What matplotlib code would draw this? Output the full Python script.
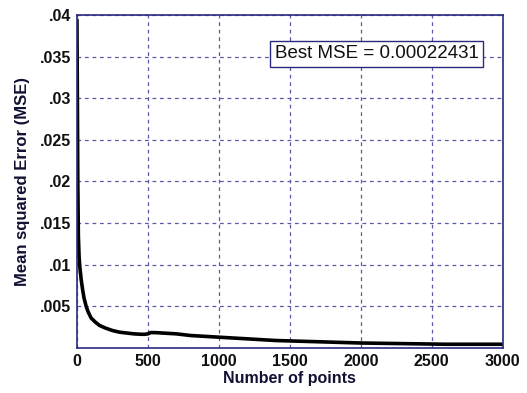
import matplotlib
matplotlib.use("Agg")
import matplotlib.pyplot as plt

plt.rcParams['font.family'] = ['Liberation Sans', 'DejaVu Sans']

points = [0, 3, 6, 10, 15, 20, 30, 40, 50, 65, 80, 100, 130, 160, 200, 250, 300, 350, 400, 450, 480, 500, 520, 550, 600, 700, 800, 900, 1000, 1200, 1400, 1600, 1800, 2000, 2200, 2400, 2600, 2800, 3000]
mse = [0.0395, 0.030, 0.020, 0.0135, 0.0110, 0.0098, 0.0082, 0.0070, 0.0060, 0.0050, 0.0043, 0.0036, 0.0031, 0.0027, 0.0024, 0.0021, 0.0019, 0.0018, 0.0017, 0.00165, 0.00165, 0.0017, 0.00185, 0.00185, 0.0018, 0.0017, 0.0015, 0.0014, 0.0013, 0.0011, 0.0009, 0.0008, 0.0007, 0.0006, 0.00055, 0.0005, 0.00045, 0.00045, 0.00045]
xticks = [0, 500, 1000, 1500, 2000, 2500, 3000]
yticks = [0.005, 0.01, 0.015, 0.02, 0.025, 0.03, 0.035, 0.04]
ylabels = ['.005', '.01', '.015', '.02', '.025', '.03', '.035', '.04']

fig = plt.figure(figsize=(5.27, 3.93), dpi=100)
ax = fig.add_axes([0.146, 0.1145, 0.808, 0.8475])
ax.plot(points, mse, color='black', lw=2.6, solid_capstyle='butt')
ax.set_xlim(0, 3000)
ax.set_ylim(0, 0.04)
ax.set_xticks(xticks)
ax.set_xticklabels([str(v) for v in xticks], fontsize=11.5, fontweight='bold', color='#111111')
ax.set_yticks(yticks)
ax.set_yticklabels(ylabels, fontsize=11.5, fontweight='bold', color='#111111')
ax.tick_params(length=0, pad=4)
ax.grid(True, color='#5a5aa8', linestyle=(0, (3, 3)), lw=0.9)
for s in ax.spines.values():
    s.set_color('#2a2a80')
    s.set_linewidth(1.2)
ax.set_xlabel('Number of points', fontsize=11.5, fontweight='bold', color='#111133', labelpad=2)
ax.set_ylabel('Mean squared Error (MSE)', fontsize=12, fontweight='bold', color='#111133', labelpad=7)
ax.text(0.704, 0.883, 'Best MSE = 0.00022431', transform=ax.transAxes, ha='center', va='center',
        fontsize=13.5, color='#111111',
        bbox=dict(boxstyle='square,pad=0.25', fc='white', ec='#2a2a80', lw=1.0))
fig.savefig('out.png', dpi=100)
